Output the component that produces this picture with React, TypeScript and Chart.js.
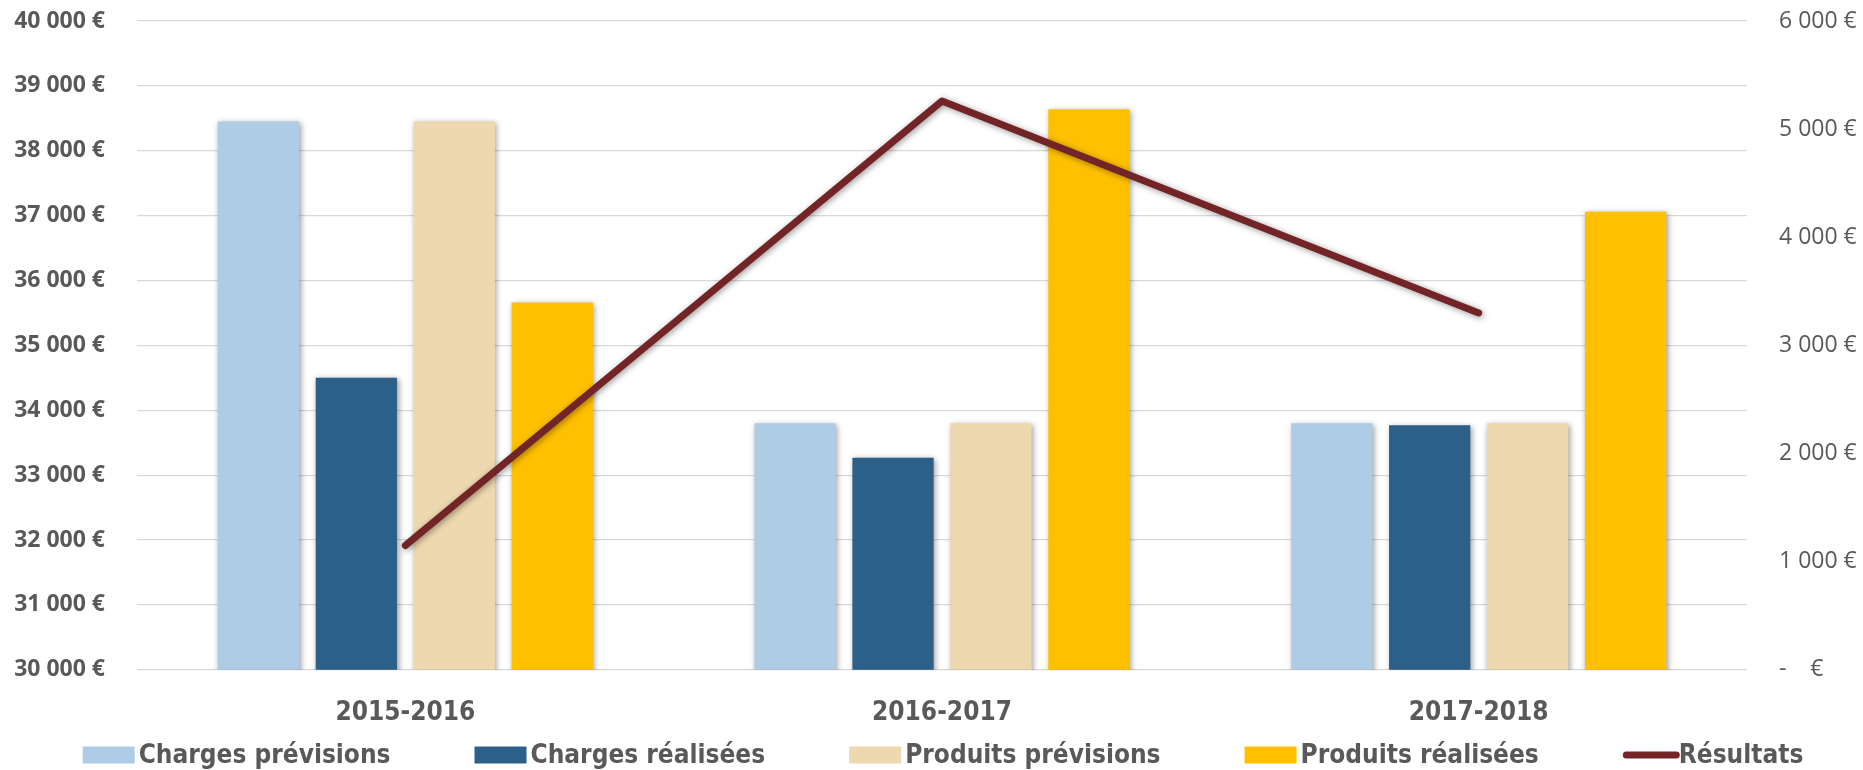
import React, { useEffect, useRef } from "react";
import { Chart, registerables } from "chart.js";

Chart.register(...registerables);

const categories = ["2015-2016", "2016-2017", "2017-2018"];
const seriesNames = [
  "Charges prévisions",
  "Charges réalisées",
  "Produits prévisions",
  "Produits réalisées",
  "Résultats",
];
const chargesPrevisions = [38450, 33800, 33800];
const chargesRealisees = [34500, 33270, 33770];
const produitsPrevisions = [38450, 33800, 33800];
const produitsRealisees = [35660, 38640, 37060];
const resultats = [1150, 5260, 3300];

const leftMin = 30000;
const leftMax = 40000;
const leftStep = 1000;
const rightMin = 0;
const rightMax = 6000;
const rightStep = 1000;

const colors = ["#AECCE5", "#2C6089", "#EED8AF", "#FFC000", "#722426"];
const textColor = "#595959";
const narrowFont = "'DejaVu Sans Condensed', 'DejaVu Sans', sans-serif";
const tickFont = "'Open Sans', sans-serif";

function fmt(n: number): string {
  return String(n).replace(/\B(?=(\d{3})+(?!\d))/g, " ") + " €";
}

export default function App() {
  const ref = useRef<HTMLCanvasElement>(null);

  useEffect(() => {
    document.body.style.margin = "0";
    const canvas = ref.current;
    if (!canvas) return;

    const shadowPlugin = {
      id: "shadowPlugin",
      beforeDatasetDraw(chart: any) {
        const c = chart.ctx;
        c.save();
        c.shadowColor = "rgba(0,0,0,0.4)";
        c.shadowBlur = 6;
        c.shadowOffsetX = 1.5;
        c.shadowOffsetY = 1.5;
      },
      afterDatasetDraw(chart: any) {
        chart.ctx.restore();
      },
    };

    const legendPlugin = {
      id: "customLegend",
      afterDraw(chart: any) {
        const c = chart.ctx;
        c.save();
        c.font = `bold 26px ${narrowFont}`;
        const boxW = 52;
        const boxH = 17;
        const boxGap = 4;
        const itemGap = 84;
        const widths = seriesNames.map((n) => c.measureText(n).width);
        const total =
          widths.reduce((s, w) => s + boxW + boxGap + w, 0) + itemGap * (seriesNames.length - 1);
        const area = chart.chartArea;
        let x = (area.left + area.right) / 2 + 1 - total / 2;
        const y = chart.height - 15;
        seriesNames.forEach((name, i) => {
          if (i === seriesNames.length - 1) {
            c.strokeStyle = colors[i];
            c.lineWidth = 7;
            c.lineCap = "round";
            c.beginPath();
            c.moveTo(x + 3.5, y);
            c.lineTo(x + boxW + 1.5, y);
            c.stroke();
          } else {
            c.fillStyle = colors[i];
            c.fillRect(x, y - boxH / 2, boxW, boxH);
          }
          c.fillStyle = textColor;
          c.textBaseline = "middle";
          c.textAlign = "left";
          c.fillText(name, x + boxW + boxGap, y + 1);
          x += boxW + boxGap + widths[i] + itemGap;
        });
        c.restore();
      },
    };

    const barSeries = [chargesPrevisions, chargesRealisees, produitsPrevisions, produitsRealisees];

    const chart = new Chart(canvas, {
      type: "bar",
      data: {
        labels: categories,
        datasets: [
          ...barSeries.map((d, i) => ({
            type: "bar" as const,
            label: seriesNames[i],
            data: d,
            backgroundColor: colors[i],
            borderWidth: 0,
            yAxisID: "y",
            order: 1,
            categoryPercentage: 0.73,
            barPercentage: 0.83,
          })),
          {
            type: "line" as const,
            label: seriesNames[4],
            data: resultats,
            borderColor: colors[4],
            backgroundColor: colors[4],
            borderWidth: 7,
            borderCapStyle: "round" as const,
            borderJoinStyle: "round" as const,
            pointRadius: 0,
            tension: 0,
            yAxisID: "y1",
            order: 0,
          },
        ],
      },
      options: {
        animation: false,
        responsive: true,
        maintainAspectRatio: false,
        layout: { padding: { top: 21, bottom: 13, left: 0, right: 0 } },
        plugins: {
          legend: { display: false },
          tooltip: { enabled: false },
        },
        scales: {
          x: {
            grid: { display: false, drawTicks: false },
            border: { display: false },
            ticks: {
              color: textColor,
              padding: 28,
              font: { family: narrowFont, size: 26, weight: "bold" },
            },
          },
          y: {
            position: "left",
            min: leftMin,
            max: leftMax,
            grid: { color: "#D9D9D9", lineWidth: 1.3, drawTicks: false },
            border: { display: false },
            afterFit: (scale: any) => {
              scale.width = 137;
              scale.paddingTop = 0;
              scale.paddingBottom = 0;
            },
            ticks: {
              stepSize: leftStep,
              padding: 32,
              color: textColor,
              font: { family: tickFont, size: 23, weight: "bold" },
              callback: (v: any) => fmt(Number(v)),
            },
          },
          y1: {
            position: "right",
            min: rightMin,
            max: rightMax,
            grid: { display: false, drawTicks: false },
            border: { display: false },
            afterFit: (scale: any) => {
              scale.width = 116;
              scale.paddingTop = 0;
              scale.paddingBottom = 0;
            },
            ticks: {
              stepSize: rightStep,
              padding: 32,
              color: textColor,
              font: { family: tickFont, size: 23 },
              callback: (v: any) => (Number(v) === 0 ? "-    €" : fmt(Number(v))),
            },
          },
        },
      },
      plugins: [shadowPlugin, legendPlugin],
    });

    return () => chart.destroy();
  }, []);

  return (
    <div style={{ width: 1863, height: 770, position: "relative" }}>
      <canvas ref={ref} />
    </div>
  );
}
